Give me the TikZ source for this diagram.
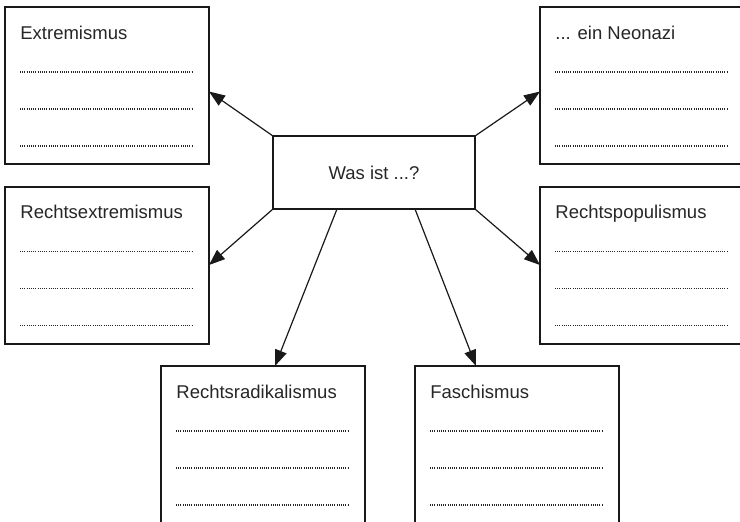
\documentclass[tikz,border=0pt]{standalone}
\usepackage{fontspec}
\setmainfont{Liberation Sans}
\usetikzlibrary{positioning, calc, arrows.meta}

\begin{document}
\begin{tikzpicture}[x=0.5pt, y=-0.5pt,
		font=\fontsize{9.25}{11}\selectfont, text=black!85,
		feld/.style={draw=black!90, line width=1pt, minimum width=102pt, minimum height=78.5pt, inner sep=0pt, outer sep=0pt},
		frage/.style={draw=black!90, line width=1pt, minimum width=101pt, minimum height=36.5pt, inner sep=0pt, outer sep=0pt},
		pfeil/.style={draw=black!90, line width=0.6pt, -{Triangle[length=8pt, width=6pt]}},
		linie/.style={black!85, line width=0.55pt, dash pattern=on 0.5pt off 0.6pt} ]
		\useasboundingbox (0,0) rectangle (740,521);
		\clip (0,0) rectangle (740,521);
		\node[frage] (c) at (374,172.5) {Was ist ...?};
		\foreach \n/\x/\y/\t in {ext/107/85.5/Extremismus, rex/107/265/Rechtsextremismus,
				neo/642/85.5/{... ein Neonazi}, pop/642/265/Rechtspopulismus,
				rad/263/444.5/Rechtsradikalismus, fas/517/444.5/Faschismus} {
			\node[feld] (\n) at (\x,\y) {};
			\node[anchor=base west, inner sep=0pt] (\n-t) at ($(\n.north west)+(15,32)$) {\t};
			\foreach \d in {65,102,139}
				\draw[linie] ($(\n.north west)+(15,\d)$) -- ($(\n.north east)+(-16,\d)$);
		}
		\draw[pfeil] (c.north west) -- ([yshift=-3pt]ext.east);
		\draw[pfeil] (c.south west) -- (rex.east);
		\draw[pfeil] (c.north east) -- ([yshift=-3pt]neo.west);
		\draw[pfeil] (c.south east) -- (pop.west);
		\draw[pfeil] ($(c.south west)+(64,0)$) -- ($(rad.north west)+(114,0)$);
		\draw[pfeil] ($(c.south west)+(142,0)$) -- ($(fas.north west)+(61,0)$);
	\end{tikzpicture}
\end{document}
